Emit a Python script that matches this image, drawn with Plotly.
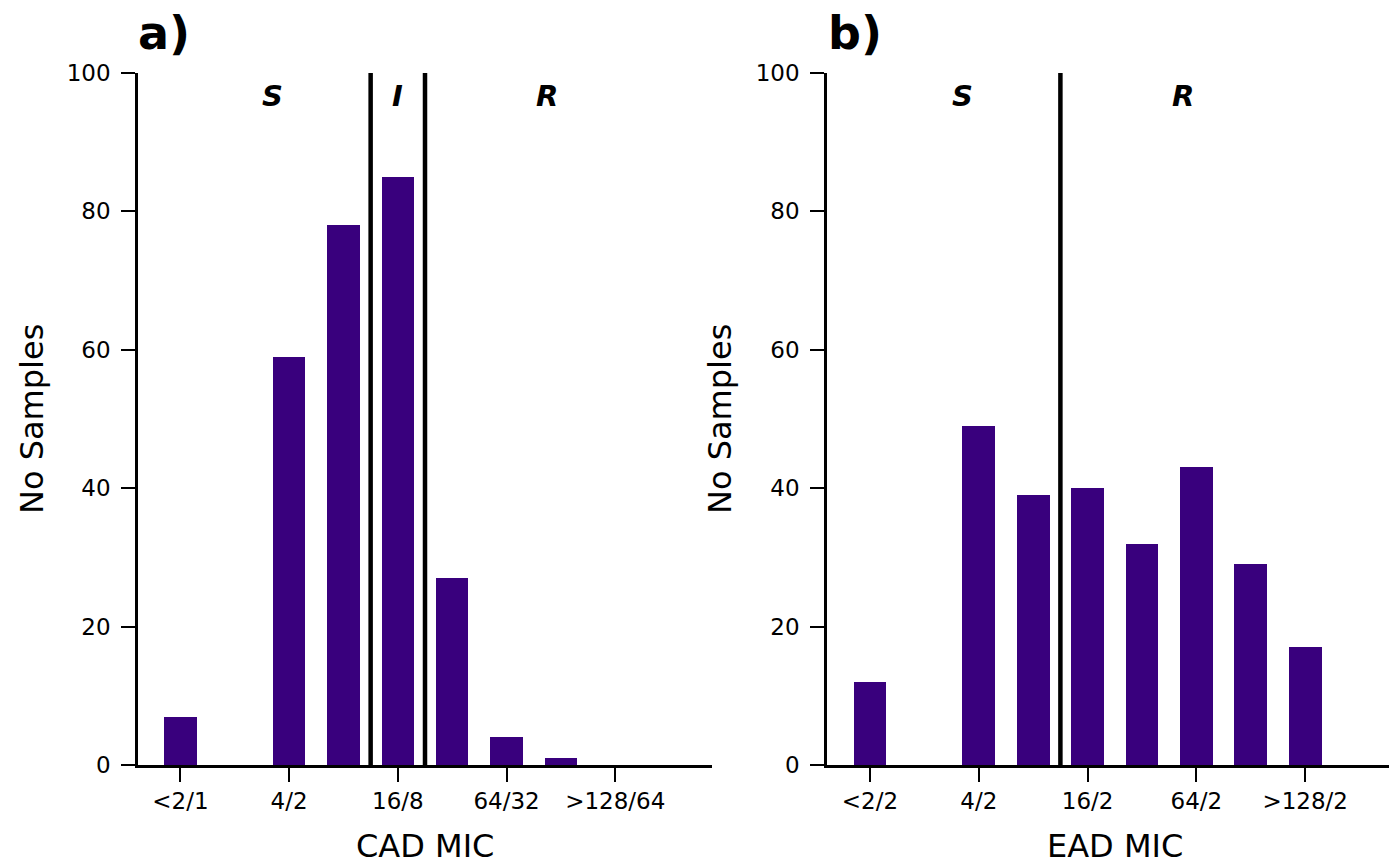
import plotly.graph_objects as go

W, H = 1389, 865

# ---- data ----
cad_categories = ["<2/1", "2/1", "4/2", "8/4", "16/8", "32/16", "64/32", "128/64", ">128/64"]
cad_counts = [7, 0, 59, 78, 85, 27, 4, 1, 0]
cad_ticks = ["<2/1", "4/2", "16/8", "64/32", ">128/64"]
cad_breakpoints = [3.5, 4.5]
cad_zones = [("S", 1.7), ("I", 4.0), ("R", 6.75)]

ead_categories = ["<2/2", "2/2", "4/2", "8/2", "16/2", "32/2", "64/2", "128/2", ">128/2"]
ead_counts = [12, 0, 49, 39, 40, 32, 43, 29, 17]
ead_ticks = ["<2/2", "4/2", "16/2", "64/2", ">128/2"]
ead_breakpoints = [3.5]
ead_zones = [("S", 1.7), ("R", 5.75)]

y_ticks = [0, 20, 40, 60, 80, 100]

BAR = "#39007D"
FONT = "DejaVu Sans"

fig = go.Figure()
fig.add_trace(go.Bar(x=cad_categories, y=cad_counts, width=0.6, marker=dict(color=BAR, line=dict(width=0)),
                     xaxis="x", yaxis="y", showlegend=False))
fig.add_trace(go.Bar(x=ead_categories, y=ead_counts, width=0.6, marker=dict(color=BAR, line=dict(width=0)),
                     xaxis="x2", yaxis="y2", showlegend=False))

def px_x(p):
    return p / W

def px_y(p):
    return 1 - p / H

ydom = [px_y(765), px_y(73)]
axis_common = dict(showline=True, linewidth=2.5, linecolor="black", ticks="outside", ticklen=14,
                   tickwidth=2, tickcolor="black", showgrid=False, zeroline=False, automargin=False,
                   tickfont=dict(family=FONT, size=23, color="black"))

fig.update_layout(
    template="none",
    autosize=True, margin=dict(l=0, r=0, t=0, b=0, pad=0),
    plot_bgcolor="white", paper_bgcolor="white",
    bargap=0,
    xaxis=dict(domain=[px_x(138), px_x(712)], type="category", categoryorder="array",
               categoryarray=cad_categories, range=[-0.78, 9.78], tickmode="array",
               tickvals=cad_ticks, ticktext=cad_ticks, anchor="y", **axis_common),
    yaxis=dict(domain=ydom, range=[0, 100], tickmode="array", tickvals=y_ticks, anchor="x",
               ticklabelstandoff=6, **axis_common),
    xaxis2=dict(domain=[px_x(827), 1.0], type="category", categoryorder="array",
                categoryarray=ead_categories, range=[-0.79, 9.54], tickmode="array",
                tickvals=ead_ticks, ticktext=ead_ticks, anchor="y2", **axis_common),
    yaxis2=dict(domain=ydom, range=[0, 100], tickmode="array", tickvals=y_ticks, anchor="x2",
                ticklabelstandoff=6, **axis_common),
)

shapes = []
for xv in cad_breakpoints:
    shapes.append(dict(type="line", xref="x", yref="y domain", x0=xv, x1=xv, y0=0, y1=1,
                       line=dict(color="black", width=4.5)))
for xv in ead_breakpoints:
    shapes.append(dict(type="line", xref="x2", yref="y2 domain", x0=xv, x1=xv, y0=0, y1=1,
                       line=dict(color="black", width=4.5)))
fig.update_layout(shapes=shapes)

ann = []
for txt, xv in cad_zones:
    ann.append(dict(text=f"<b><i>{txt}</i></b>", x=xv, y=96.7, xref="x", yref="y", showarrow=False,
                    font=dict(family=FONT, size=29, color="black")))
for txt, xv in ead_zones:
    ann.append(dict(text=f"<b><i>{txt}</i></b>", x=xv, y=96.7, xref="x2", yref="y2", showarrow=False,
                    font=dict(family=FONT, size=29, color="black")))

for txt, xp in [("a)", 136), ("b)", 826)]:
    ann.append(dict(text=f"<b>{txt}</b>", x=px_x(xp), y=px_y(33), xref="paper", yref="paper",
                    xanchor="left", yanchor="middle", showarrow=False,
                    font=dict(family=FONT, size=46, color="black")))
for xp in [32, 720]:
    ann.append(dict(text="No Samples", x=px_x(xp), y=px_y(419), xref="paper", yref="paper",
                    textangle=-90, xanchor="center", yanchor="middle", showarrow=False,
                    font=dict(family=FONT, size=32, color="black")))
for txt, xp in [("CAD MIC", 425), ("EAD MIC", 1115)]:
    ann.append(dict(text=txt, x=px_x(xp), y=px_y(846), xref="paper", yref="paper",
                    xanchor="center", yanchor="middle", showarrow=False,
                    font=dict(family=FONT, size=32, color="black")))
fig.update_layout(annotations=ann)

post = (
    "var gd=document.getElementById('{plot_id}');"
    "document.documentElement.style.height='100%';"
    "document.documentElement.style.overflow='hidden';"
    "document.body.style.height='100%';"
    "document.body.style.margin='0';"
    "document.body.style.overflow='hidden';"
    "gd.parentElement.style.height='100%';"
    "gd.style.height='100%';gd.style.width='100%';"
    "Plotly.Plots.resize(gd);"
)
fig.write_html("out.html", config=dict(displayModeBar=False, responsive=True), post_script=post)
